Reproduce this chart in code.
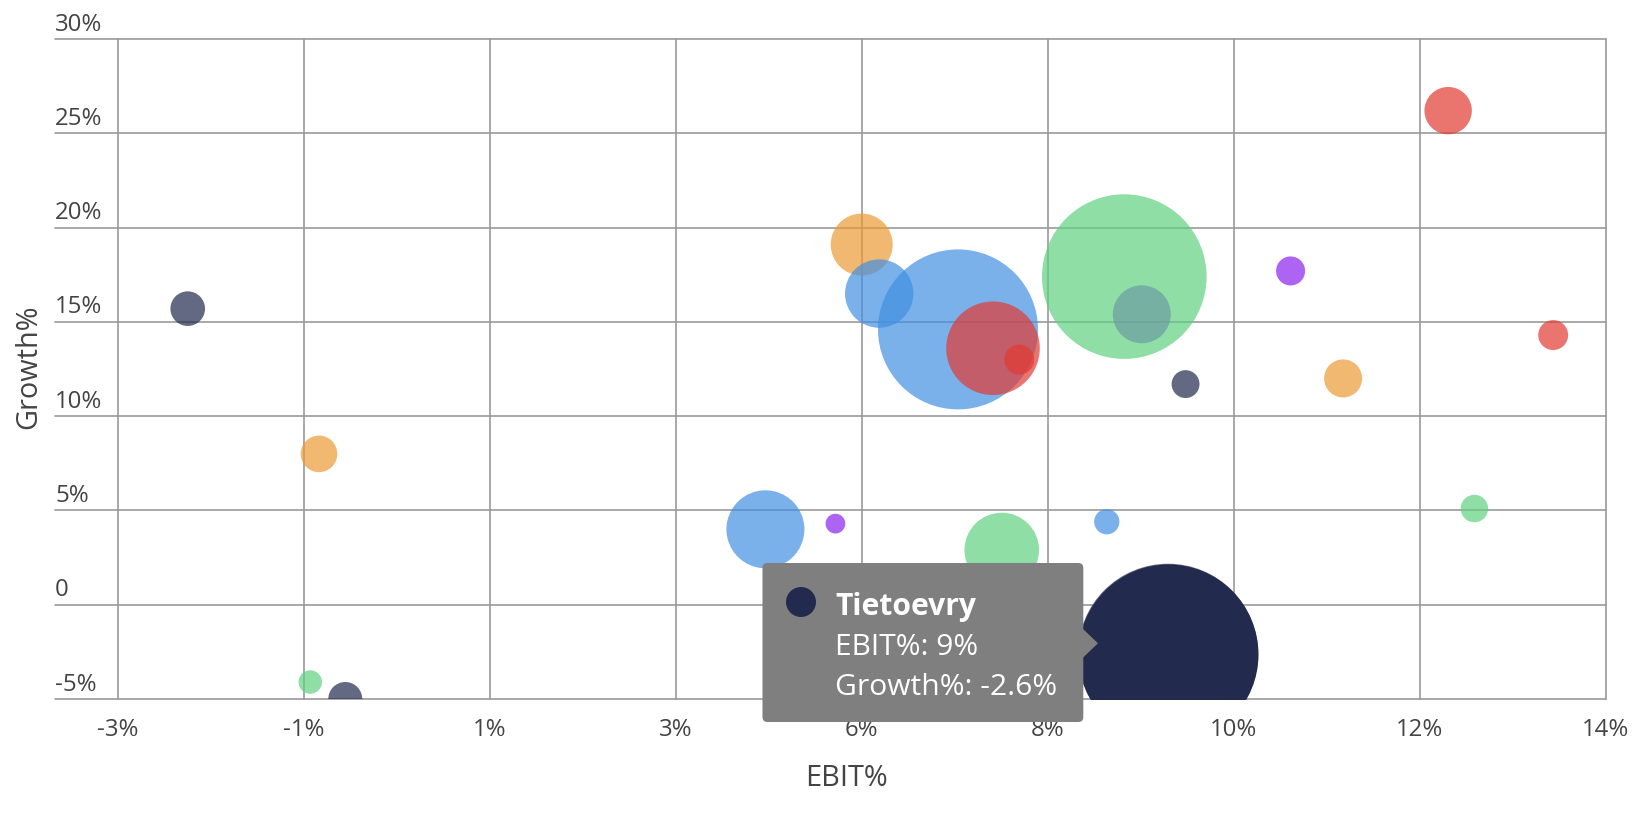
import numpy as np, pandas as pd, seaborn as sns
import matplotlib
matplotlib.use('Agg')
import matplotlib.pyplot as plt
from matplotlib import transforms as mtrans
from matplotlib.patches import FancyBboxPatch, Polygon, Circle

# bubbles, listed in the order they are drawn (navy, orange, blue, red, purple, green)
name = ['', '', '', 'Tietoevry',
        '', '', '',
        '', '', '', '',
        '', '', '', '',
        '', '', '',
        '', '', '', '']
group = ['navy']*4 + ['orange']*3 + ['blue']*4 + ['red']*4 + ['purple']*3 + ['green']*4
ebit = [-2.2, -0.4, 9.2, 9.0,
        -0.7, 5.5, 11.0,
        4.4, 5.7, 6.6, 8.3,
        7.0, 7.3, 12.2, 13.4,
        5.2, 8.7, 10.4,
        -0.8, 7.1, 8.5, 12.5]
growth = [15.7, -5.0, 11.7, -2.6,
          8.0, 19.1, 12.0,
          4.0, 16.5, 14.6, 4.4,
          13.6, 13.0, 26.2, 14.3,
          4.3, 15.4, 17.7,
          -4.1, 2.9, 17.4, 5.1]
revenue = [111, 107, 72, 3000,
           124, 356, 134,
           563, 433, 2370, 59,
           811, 83, 208, 83,
           36, 311, 78,
           51, 515, 2509, 70]

palette = {'navy': '#222a4e', 'orange': '#eb9a34', 'blue': '#4290e2',
           'red': '#e23a32', 'green': '#5fd181', 'purple': '#8b22ed'}

x_min, x_max = -3, 14
x_labels = ['-3%', '-1%', '1%', '3%', '6%', '8%', '10%', '12%', '14%']
y_ticks = [-5, 0, 5, 10, 15, 20, 25, 30]
y_labels = ['-5%', '0', '5%', '10%', '15%', '20%', '25%', '30%']
hovered = 'Tietoevry'

df = pd.DataFrame({'name': name, 'group': group, 'EBIT%': ebit, 'Growth%': growth, 'revenue': revenue})

sns.set_style('white')
plt.rcParams['font.family'] = ['Open Sans', 'DejaVu Sans']

W, H = 1638, 820
fig = plt.figure(figsize=(W/100, H/100), dpi=100)
ax = fig.add_axes([117.7/W, 1-700/H, 1488/W, 660/H])
T = mtrans.Affine2D().scale(1/W, -1/H).translate(0, 1) + fig.transFigure  # pixel coords, y down

smax = (2*90*0.72)**2
zmax = max(revenue)
sns.scatterplot(data=df, x='EBIT%', y='Growth%', hue='group', palette=palette, size='revenue',
                sizes=(0, smax), size_norm=(0, zmax), alpha=0.7, linewidth=0, legend=False, ax=ax, zorder=3)
sns.scatterplot(data=df[df.name == hovered], x='EBIT%', y='Growth%', color=palette['navy'], size='revenue',
                sizes=(0, smax), size_norm=(0, zmax), alpha=1, linewidth=0, legend=False, ax=ax, zorder=4)

ax.set_xlim(x_min, x_max)
ax.set_ylim(y_ticks[0], y_ticks[-1])
for s in ax.spines.values():
    s.set_visible(False)

gridc = '#999999'
ax.set_xticks(np.linspace(x_min, x_max, len(x_labels)), x_labels)
ax.tick_params(axis='x', length=0, pad=13, labelsize=17.3, labelcolor='#444444')
ax.grid(axis='x', color=gridc, lw=1.2)
for gl in ax.get_xgridlines():
    gl.set_clip_on(False)
ax.set_yticks([])
ext = -(117.7-55)/1488
for v, lab in zip(y_ticks, y_labels):
    ax.axhline(v, xmin=ext, xmax=1, color=gridc, lw=1.2, clip_on=False, zorder=0.5)
    ax.annotate(lab, xy=(ext, v), xycoords=ax.get_yaxis_transform(), xytext=(0, 6.8),
                textcoords='offset points', ha='left', va='baseline', fontsize=17.3, color='#444444')
ax.set_axisbelow(True)

ax.set_xlabel('EBIT%', fontsize=20.8, color='#444444', va='baseline')
ax.xaxis.set_label_coords(846/W, 1-785.7/H, transform=fig.transFigure)
ax.set_ylabel('Growth%', fontsize=20.8, color='#444444', va='baseline')
ax.yaxis.set_label_coords(36.7/W, 1-367/H, transform=fig.transFigure)

# tooltip
row = df[df.name == hovered].iloc[0]
tipc = '#7f7f7f'
fig.add_artist(FancyBboxPatch((762.5, 564), 320.8, 159, boxstyle='round,pad=0,rounding_size=5',
                              transform=T, fc=tipc, ec='none', zorder=5))
fig.add_artist(Polygon([(1083, 630), (1098, 644.3), (1083, 658.6)], closed=True, transform=T,
                       fc=tipc, ec='none', zorder=5))
fig.add_artist(Circle((801, 603), 15, transform=T, fc=palette['navy'], ec='none', zorder=6))
fig.text(835, 615, row['name'], transform=T, fontsize=21.6, fontweight='bold', color='white', va='baseline', zorder=6)
fig.text(835, 655, 'EBIT%%: %g%%' % row['EBIT%'], transform=T, fontsize=21.6, color='white', va='baseline', zorder=6)
fig.text(835, 695, 'Growth%%: %g%%' % row['Growth%'], transform=T, fontsize=21.6, color='white', va='baseline', zorder=6)

fig.savefig('out.png', dpi=100)
